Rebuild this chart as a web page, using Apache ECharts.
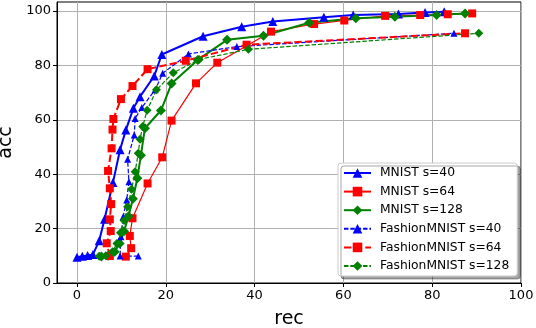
<!DOCTYPE html>
<html>
<head>
<meta charset="utf-8">
<script src="https://cdn.jsdelivr.net/npm/echarts@6/dist/echarts.min.js"></script>
<style>
html,body{margin:0;padding:0;background:#fff;}
#c{width:536px;height:328px;}
</style>
</head>
<body>
<div id="c"></div>
<script>
// ---- data ----
const seriesNames = ['MNIST s=40','MNIST s=64','MNIST s=128','FashionMNIST s=40','FashionMNIST s=64','FashionMNIST s=128'];
const xTicks = [0,20,40,60,80,100];
const yTicks = [0,20,40,60,80,100];

const mnist40X = [0,1.2,2.4,3.6,5.0,6.2,8.1,9.7,11.0,12.7,14.2,17.4,19.1,28.4,37.1,44.1,55.6,62.2,72.4,78.4,82.7];
const mnist40Y = [9.5,9.8,10.1,10.5,15.5,23.4,36.9,49.0,56.2,64.2,68.5,76.1,84.0,90.7,94.2,96.1,97.7,98.5,98.9,99.4,99.7];

const mnist64X = [11.0,12.2,11.9,12.5,15.9,19.2,21.3,26.8,31.6,43.7,53.4,60.2,69.4,77.3,83.5,89.0];
const mnist64Y = [9.7,12.8,17.3,23.8,36.6,46.2,59.7,73.4,81.0,92.4,95.2,96.5,98.2,98.5,98.8,99.1];

const mnist128X = [5.5,7.0,8.5,9.6,10.6,11.6,12.6,13.6,14.4,15.3,18.9,21.3,27.2,33.8,42.0,52.3,62.8,71.6,81.0,87.4];
const mnist128Y = [9.7,10.0,11.5,14.5,19.0,24.5,31.0,38.5,47.0,56.9,63.4,73.3,82.0,89.4,90.9,95.7,97.3,97.9,98.5,99.1];

const fashion40X = [13.8,9.7,9.9,10.4,11.2,11.7,11.4,12.9,13.1,14.6,17.6,19.3,25.1,36.0,84.9];
const fashion40Y = [9.9,9.9,17.0,24.4,30.5,37.2,45.5,54.4,60.5,64.5,71.0,77.1,84.2,86.9,91.8];

const fashion64X = [7.4,6.7,7.6,7.4,7.7,7.4,7.0,7.8,8.0,8.2,9.9,12.5,15.9,24.5,38.2,87.4];
const fashion64Y = [9.9,14.6,19.1,23.4,29.0,34.8,41.2,49.5,56.4,60.3,67.6,72.4,78.6,81.7,87.6,91.8];

const fashion128X = [5.0,6.5,8.0,9.0,9.8,10.6,11.4,12.3,13.1,13.8,14.2,14.8,15.8,17.9,21.7,27.5,38.6,90.5];
const fashion128Y = [9.8,10.0,11.5,14.5,18.5,23.0,28.0,34.5,40.9,47.7,52.8,57.5,63.5,71.0,77.3,82.2,85.9,91.8];

function pairs(xs, ys){ return xs.map((x,i)=>[x, ys[i]]); }

const FONT = 'DejaVu Sans';
const BLUE = '#0000ff', RED = '#ff0000', GREEN = '#008000';

function mk(name, xs, ys, color, width, dashed, symbol, size){
  return {
    name: name, type: 'line', data: pairs(xs, ys),
    symbol: symbol, symbolSize: size,
    lineStyle: {color: color, width: width, type: dashed ? [3.7*width, 1.6*width] : 'solid'},
    itemStyle: {color: color, borderWidth: 0},
    emphasis: {disabled: true},
    animation: false, clip: false, z: 2
  };
}

const chart = echarts.init(document.getElementById('c'), null, {renderer: 'canvas'});
chart.setOption({
  animation: false,
  backgroundColor: '#fff',
  grid: {left: 57, right: 15, top: 2, bottom: 45, containLabel: false, outerBoundsMode: 'none',
         show: true, borderColor: '#000', borderWidth: 1, backgroundColor: 'transparent'},
  xAxis: {
    type: 'value', min: -4.5, max: 100,
    name: 'rec', nameLocation: 'middle', nameGap: 27,
    nameTextStyle: {fontFamily: FONT, fontSize: 19, color: '#000'},
    axisLine: {show: true, onZero: false, lineStyle: {color: '#000', width: 1}},
    axisTick: {show: true, inside: false, length: 4, customValues: xTicks, lineStyle: {color: '#000'}},
    axisLabel: {customValues: xTicks, fontFamily: FONT, fontSize: 13, color: '#000', margin: 6},
    splitLine: {show: true, lineStyle: {color: '#b0b0b0', width: 1}}
  },
  yAxis: {
    type: 'value', min: 0, max: 103.3,
    name: 'acc', nameLocation: 'middle', nameGap: 38, nameRotate: 90,
    nameTextStyle: {fontFamily: FONT, fontSize: 19, color: '#000'},
    axisLine: {show: true, onZero: false, lineStyle: {color: '#000', width: 1}},
    axisTick: {show: true, inside: false, length: 4, customValues: yTicks, lineStyle: {color: '#000'}},
    axisLabel: {customValues: yTicks, fontFamily: FONT, fontSize: 13, color: '#000', margin: 6},
    splitLine: {show: true, lineStyle: {color: '#b0b0b0', width: 1}}
  },
  legend: {
    orient: 'vertical', left: 338, top: 163,
    itemWidth: 27, itemHeight: 12, itemGap: 6.6,
    padding: [4, 8, 4, 5],
    backgroundColor: '#fff', borderColor: '#cccccc', borderWidth: 1, borderRadius: 3,
    shadowColor: 'rgba(0,0,0,0.35)', shadowBlur: 0, shadowOffsetX: 3, shadowOffsetY: 3,
    textStyle: {fontFamily: FONT, fontSize: 12.3, color: '#000', padding: [0,0,0,4]},
    data: seriesNames
  },
  series: [
    mk(seriesNames[0], mnist40X, mnist40Y, BLUE, 2, false, 'triangle', 9),
    mk(seriesNames[1], mnist64X, mnist64Y, RED, 1.2, false, 'rect', 8),
    mk(seriesNames[2], mnist128X, mnist128Y, GREEN, 2, false, 'diamond', 10),
    mk(seriesNames[3], fashion40X, fashion40Y, BLUE, 1.2, true, 'triangle', 7),
    mk(seriesNames[4], fashion64X, fashion64Y, RED, 2, true, 'rect', 8),
    mk(seriesNames[5], fashion128X, fashion128Y, GREEN, 1.2, true, 'diamond', 9)
  ]
});
</script>
</body>
</html>
